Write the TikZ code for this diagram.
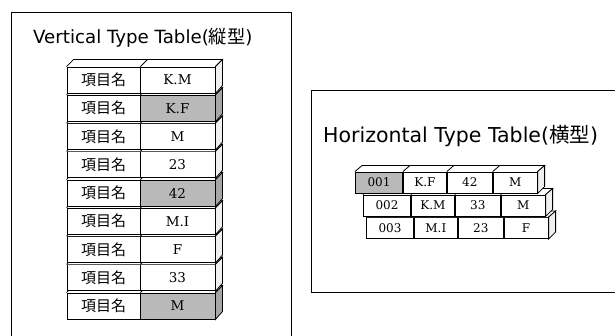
\documentclass[tikz,border=0pt]{standalone}
\usepackage{fontspec}
\setmainfont{DejaVu Serif}
\newfontfamily\titlefont{DejaVu Sans}
\newfontfamily\jpfont{Noto Sans CJK JP}

\tikzset{
  frame/.style={draw, line width=0.9pt},
  cellbox/.style={draw, line width=0.9pt, fill=white, inner sep=0pt},
  topface/.style={draw, line width=0.8pt, fill=white},
  sideface/.style={draw, line width=0.8pt},
  celltext/.style={font=\fontsize{13.5}{13.5}\selectfont},
  smalltext/.style={font=\fontsize{12}{12}\selectfont},
  jptext/.style={font=\jpfont\fontsize{15}{15}\selectfont},
  titletext/.style={font=\titlefont, anchor=base west, inner sep=0pt}
}

\begin{document}
\begin{tikzpicture}[x=1pt,y=-1pt]
  \useasboundingbox (0,0) rectangle (615,335);
  \clip (0,0) rectangle (615,335);
  % frames
  \draw[frame] (11,12) rectangle (291,345);
  \draw[frame] (311,90) rectangle (625,292);
  \node[titletext] (vtitle) at (33,43) {\fontsize{18.2}{18.2}\selectfont Vertical Type Table({\jpfont 縦型})};
  \node[titletext] (htitle) at (323,142) {\fontsize{20.5}{20.5}\selectfont Horizontal Type Table({\jpfont 横型})};

  % vertical table, bottom row first
  \foreach \i/\val/\tone/\sidetone in {8/M/gray!55/gray!70, 7/33/white/gray!12,
      6/F/white/gray!12, 5/M.I/white/gray!12, 4/42/gray!55/gray!70,
      3/23/white/gray!12, 2/M/white/gray!12, 1/K.F/gray!55/gray!70, 0/K.M/white/gray!12}{
    \pgfmathsetmacro\rowy{80+28.25*\i}
    \node[cellbox, jptext, minimum width=73pt, minimum height=26pt] (key\i) at (103.5,\rowy) {項目名};
    \node[cellbox, celltext, fill=\tone, minimum width=75pt, minimum height=26pt] (val\i) at (177.5,\rowy) {\val};
    \draw[topface] (key\i.north west) -- ++(7,-7) -- ([shift={(7,-7)}]val\i.north east) -- (val\i.north east);
    \draw[topface] (key\i.north east) -- ++(7,-7);
    \draw[sideface, fill=\sidetone] (val\i.north east) -- ++(7,-7) -- ++(0,26) -- (val\i.south east) -- cycle;
  }

  % horizontal table, bottom row first
  \foreach \r/\xs/\ys/\a/\b/\c/\d/\tone in {3/366/228/003/M.I/23/F/white,
      2/363/205.5/002/K.M/33/M/white, 1/355/182.5/001/K.F/42/M/gray!55}{
    \node[cellbox, smalltext, fill=\tone, minimum width=47pt, minimum height=21pt, anchor=west] (h\r-a) at (\xs,\ys) {\a};
    \node[cellbox, smalltext, minimum width=43pt, minimum height=21pt, anchor=west] (h\r-b) at (h\r-a.east) {\b};
    \node[cellbox, smalltext, minimum width=45pt, minimum height=21pt, anchor=west] (h\r-c) at (h\r-b.east) {\c};
    \node[cellbox, smalltext, minimum width=44pt, minimum height=21pt, anchor=west] (h\r-d) at (h\r-c.east) {\d};
    \draw[topface] (h\r-a.north west) -- ++(7,-6) -- ([shift={(7,-6)}]h\r-d.north east) -- (h\r-d.north east);
    \foreach \n in {a,b,c}
      \draw[topface] (h\r-\n.north east) -- ++(7,-6);
    \draw[sideface, fill=gray!12] (h\r-d.north east) -- ++(7,-6) -- ++(0,21) -- (h\r-d.south east) -- cycle;
  }
\end{tikzpicture}
\end{document}
